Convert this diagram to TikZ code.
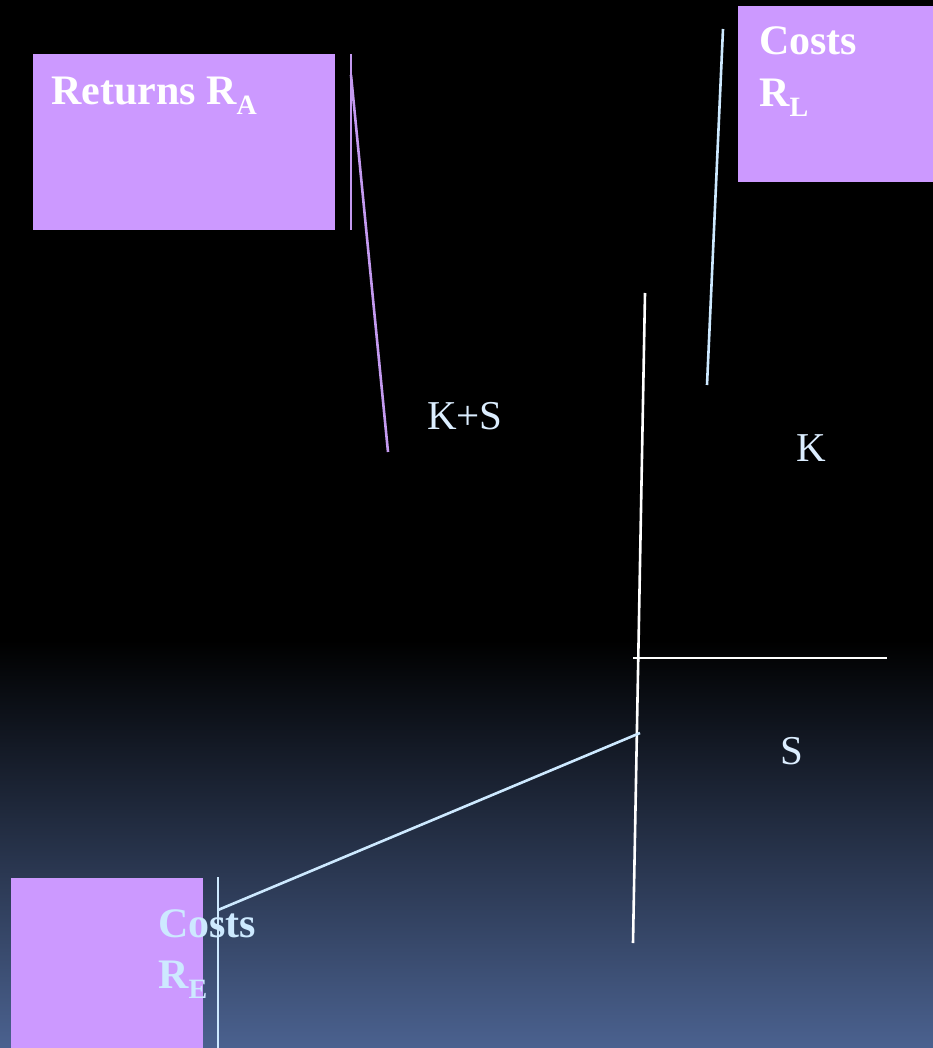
\documentclass[tikz,border=0pt]{standalone}
\usepackage{fontspec}
\setmainfont{Liberation Serif}
\definecolor{boxpurple}{HTML}{CC99FF}
\definecolor{linepurple}{HTML}{C49AF0}
\definecolor{lightblue}{HTML}{CDE9FF}
\definecolor{labelblue}{HTML}{DCEEFF}
\definecolor{bgbot}{HTML}{4B6290}
\newcommand{\sbs}[1]{\raisebox{-10pt}{\fontsize{28}{28}\selectfont #1}}
\tikzset{
  box/.style={fill=boxpurple, draw=none, inner sep=0pt, anchor=north west},
  boxtext/.style={font=\fontsize{42}{42}\selectfont\bfseries, text=white, anchor=base west, inner sep=0pt},
  lbl/.style={font=\fontsize{41}{41}\selectfont, text=labelblue, anchor=base west, inner sep=0pt},
  wline/.style={draw=white, line width=2.6pt},
  bline/.style={draw=lightblue, line width=2.6pt},
  pline/.style={draw=linepurple, line width=2.6pt}
}
\begin{document}
\begin{tikzpicture}[x=1pt,y=-1pt]
\useasboundingbox (0,0) rectangle (932,1048);
\fill[black] (-2,-2) rectangle (934,641);
\shade[top color=black, bottom color=bgbot] (-2,640) rectangle (934,1050);
% boxes
\node[box, minimum width=302pt, minimum height=176pt] (boxA) at (33,54) {};
\node[box, minimum width=196pt, minimum height=176pt] (boxL) at (738,6) {};
\node[box, minimum width=192pt, minimum height=172pt] (boxE) at (11,878) {};
% box texts
\node[boxtext] (tA) at (51,105) {Returns R\sbs{A}};
\node[boxtext] (tL1) at (759,55) {Costs};
\node[boxtext] (tL2) at (759,107) {R\sbs{L}};
\node[boxtext, text=lightblue] (tE1) at (158,937) {Costs};
\node[boxtext, text=lightblue] (tE2) at (158,988) {R\sbs{E}};
% labels
\node[lbl] (ks) at (427,429) {K+S};
\node[lbl] (k) at (796,461) {K};
\node[lbl] (s) at (780,764) {S};
% coordinates
\coordinate (pa1) at (351,54);
\coordinate (pa2) at (351,230);
\coordinate (pd1) at (351,75);
\coordinate (pd2) at (388,452);
\coordinate (bl1) at (723,29);
\coordinate (bl2) at (707,385);
\coordinate (v1) at (645,293);
\coordinate (v2) at (633,943);
\coordinate (h1) at (633,658);
\coordinate (h2) at (887,658);
\coordinate (d1) at (640,733);
\coordinate (d2) at (218,910);
\coordinate (e1) at (218,877);
\coordinate (e2) at (218,1050);
% lines
\draw[pline] (pa1) -- (pa2);
\draw[pline] (pd1) -- (pd2);
\draw[bline] (bl1) -- (bl2);
\draw[wline] (v1) -- (v2);
\draw[wline] (h1) -- (h2);
\draw[bline] (d1) -- (d2);
\draw[bline] (e1) -- (e2);
\end{tikzpicture}
\end{document}
